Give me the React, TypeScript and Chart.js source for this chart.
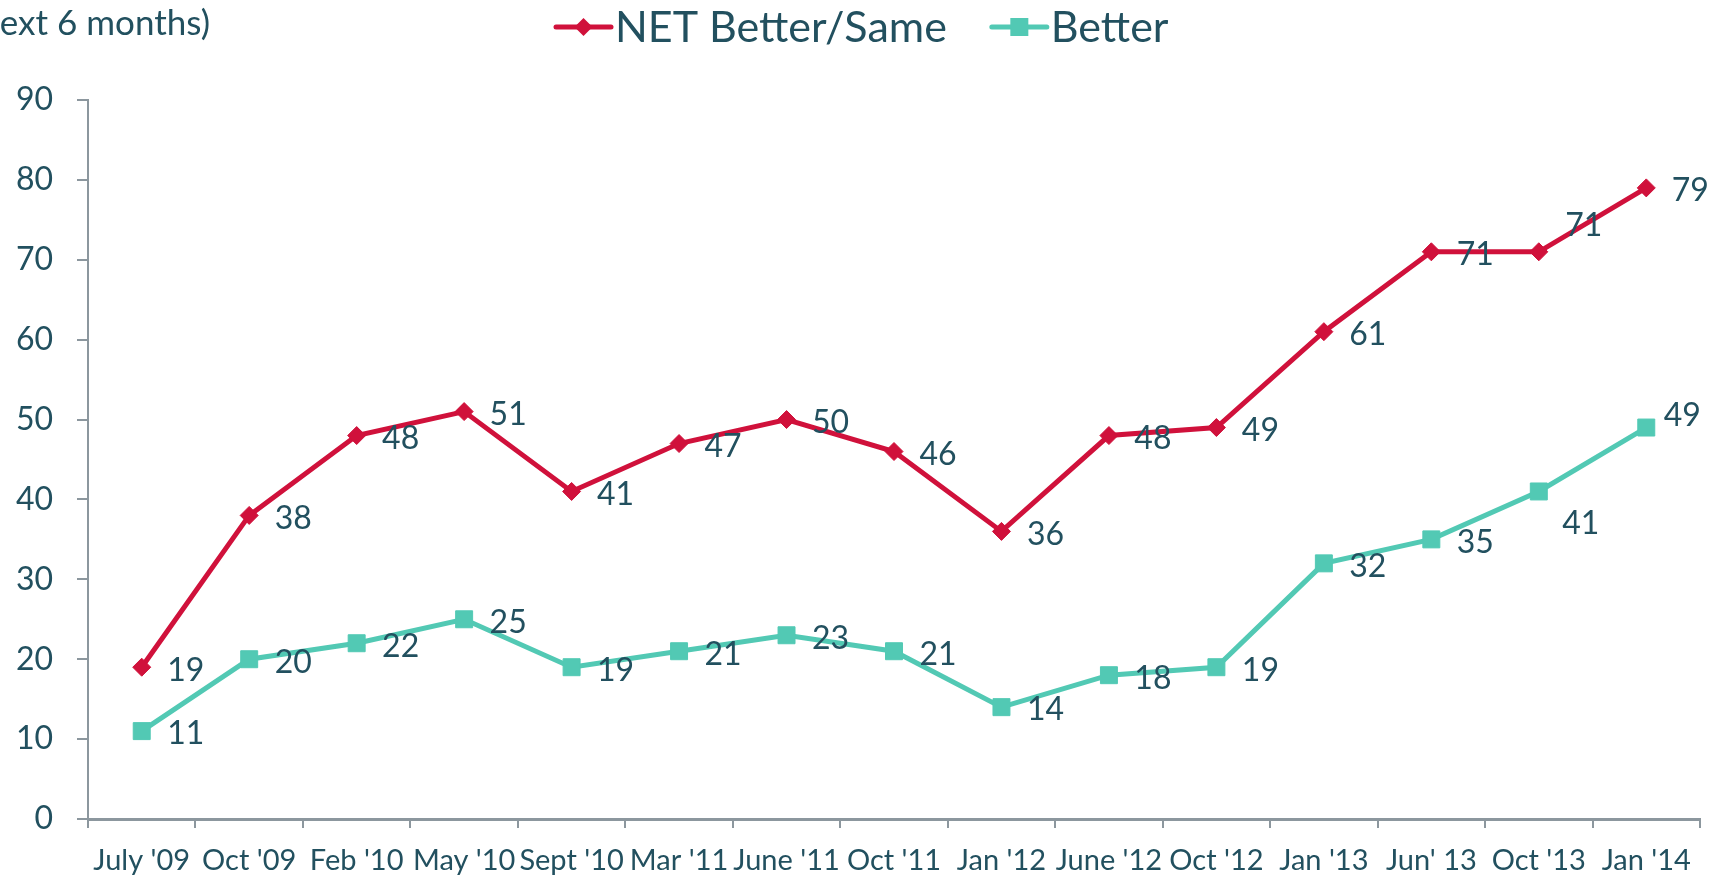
import React, { useEffect, useRef } from "react";
import { Chart, registerables } from "chart.js";

Chart.register(...registerables);

const categories = [
  "July '09", "Oct '09", "Feb '10", "May '10", "Sept '10", "Mar '11", "June '11", "Oct '11",
  "Jan '12", "June '12", "Oct '12", "Jan '13", "Jun' 13", "Oct '13", "Jan '14",
];
const netBetterSame = [19, 38, 48, 51, 41, 47, 50, 46, 36, 48, 49, 61, 71, 71, 79];
const better = [11, 20, 22, 25, 19, 21, 23, 21, 14, 18, 19, 32, 35, 41, 49];
const seriesNames = ["NET Better/Same", "Better"];
const titleText = "next 6 months)";

const TEXT = "#22505F";
const RED = "#D0113B";
const TEAL = "#52C9B4";
const AXIS = "#8C979E";
const FONT = "Lato, 'Open Sans', sans-serif";

// label nudges (pixels) for data labels that sit off the default spot
const labelNudge: Record<string, [number, number]> = {
  "0-13": [45, -26],
  "1-13": [42, 32],
  "1-14": [36, -12],
};

const dataLabels = {
  id: "dataLabels",
  afterDatasetsDraw(chart: any) {
    const ctx = chart.ctx;
    ctx.save();
    ctx.font = `32px ${FONT}`;
    ctx.fillStyle = TEXT;
    ctx.textAlign = "center";
    ctx.textBaseline = "middle";
    chart.data.datasets.forEach((ds: any, di: number) => {
      const meta = chart.getDatasetMeta(di);
      meta.data.forEach((pt: any, i: number) => {
        const [dx, dy] = labelNudge[`${di}-${i}`] || [44, 3];
        ctx.fillText(String(ds.data[i]), pt.x + dx, pt.y + dy);
      });
    });
    ctx.restore();
  },
};

const headerPlugin = {
  id: "header",
  afterDraw(chart: any) {
    const ctx = chart.ctx;
    ctx.save();
    // partial title at top-left
    ctx.font = `35px ${FONT}`;
    ctx.fillStyle = TEXT;
    ctx.textAlign = "right";
    ctx.textBaseline = "alphabetic";
    ctx.fillText(titleText, 210, 35);

    // legend
    const cy = 27;
    let x = 556;
    ctx.font = `43px ${FONT}`;
    ctx.textAlign = "left";
    ctx.textBaseline = "middle";
    chart.data.datasets.forEach((ds: any, di: number) => {
      const color = ds.borderColor;
      ctx.strokeStyle = color;
      ctx.fillStyle = color;
      ctx.lineWidth = 5;
      ctx.lineCap = "round";
      ctx.beginPath();
      ctx.moveTo(x, cy);
      ctx.lineTo(x + 55, cy);
      ctx.stroke();
      const mx = x + 27.5;
      ctx.beginPath();
      if (di === 0) {
        ctx.moveTo(mx - 9, cy);
        ctx.lineTo(mx, cy - 9);
        ctx.lineTo(mx + 9, cy);
        ctx.lineTo(mx, cy + 9);
        ctx.closePath();
      } else {
        ctx.rect(mx - 9, cy - 9, 18, 18);
      }
      ctx.fill();
      ctx.fillStyle = TEXT;
      const label = seriesNames[di];
      ctx.fillText(label, x + 59, cy + 1);
      x += 59 + ctx.measureText(label).width + 45;
    });
    ctx.restore();
  },
};

export default function App() {
  const ref = useRef<HTMLCanvasElement>(null);

  useEffect(() => {
    document.body.style.margin = "0";
    let chart: Chart | null = null;
    let cancelled = false;
    const make = () => {
      if (cancelled || !ref.current) return;
      chart = new Chart(ref.current, {
        type: "line",
        data: {
          labels: categories,
          datasets: [
            {
              label: seriesNames[0],
              data: netBetterSame,
              borderColor: RED,
              backgroundColor: RED,
              borderWidth: 5,
              pointStyle: "rectRot",
              pointRadius: 9,
              pointHoverRadius: 9,
              pointBorderWidth: 1,
              pointBorderColor: RED,
              pointBackgroundColor: RED,
              tension: 0,
            },
            {
              label: seriesNames[1],
              data: better,
              borderColor: TEAL,
              backgroundColor: TEAL,
              borderWidth: 5,
              pointStyle: "rect",
              pointRadius: 12,
              pointHoverRadius: 12,
              pointBorderWidth: 1,
              pointBorderColor: TEAL,
              pointBackgroundColor: TEAL,
              tension: 0,
            },
          ],
        },
        options: {
          responsive: false,
          animation: false,
          devicePixelRatio: 1,
          layout: { padding: { top: 100, right: 22, left: 0, bottom: 0 } },
          plugins: {
            legend: { display: false },
            title: { display: false },
            tooltip: { enabled: false },
          },
          scales: {
            x: {
              type: "category",
              offset: true,
              grid: {
                offset: true,
                drawOnChartArea: false,
                drawTicks: true,
                tickLength: 9,
                color: AXIS,
                lineWidth: 2,
              },
              border: { display: true, color: AXIS, width: 3 },
              ticks: {
                autoSkip: false,
                maxRotation: 0,
                minRotation: 0,
                color: TEXT,
                padding: 15,
                font: { family: FONT, size: 29 },
              },
              afterFit(scale: any) {
                scale.height = 56;
              },
            },
            y: {
              min: 0,
              max: 90,
              ticks: {
                stepSize: 10,
                color: TEXT,
                padding: 24,
                font: { family: FONT, size: 32 },
              },
              grid: {
                drawOnChartArea: false,
                drawTicks: true,
                tickLength: 11,
                color: AXIS,
                lineWidth: 2,
              },
              border: { display: true, color: AXIS, width: 2 },
              afterFit(scale: any) {
                scale.width = 88;
              },
            },
          },
        },
        plugins: [dataLabels, headerPlugin],
      });
    };
    const fonts: any = (document as any).fonts;
    if (fonts && fonts.load) {
      Promise.all([fonts.load(`30px Lato`)]).then(make, make);
    } else {
      make();
    }
    return () => {
      cancelled = true;
      if (chart) chart.destroy();
    };
  }, []);

  return (
    <div style={{ width: 1722, height: 875 }}>
      <canvas ref={ref} width={1722} height={875} style={{ display: "block" }} />
    </div>
  );
}
